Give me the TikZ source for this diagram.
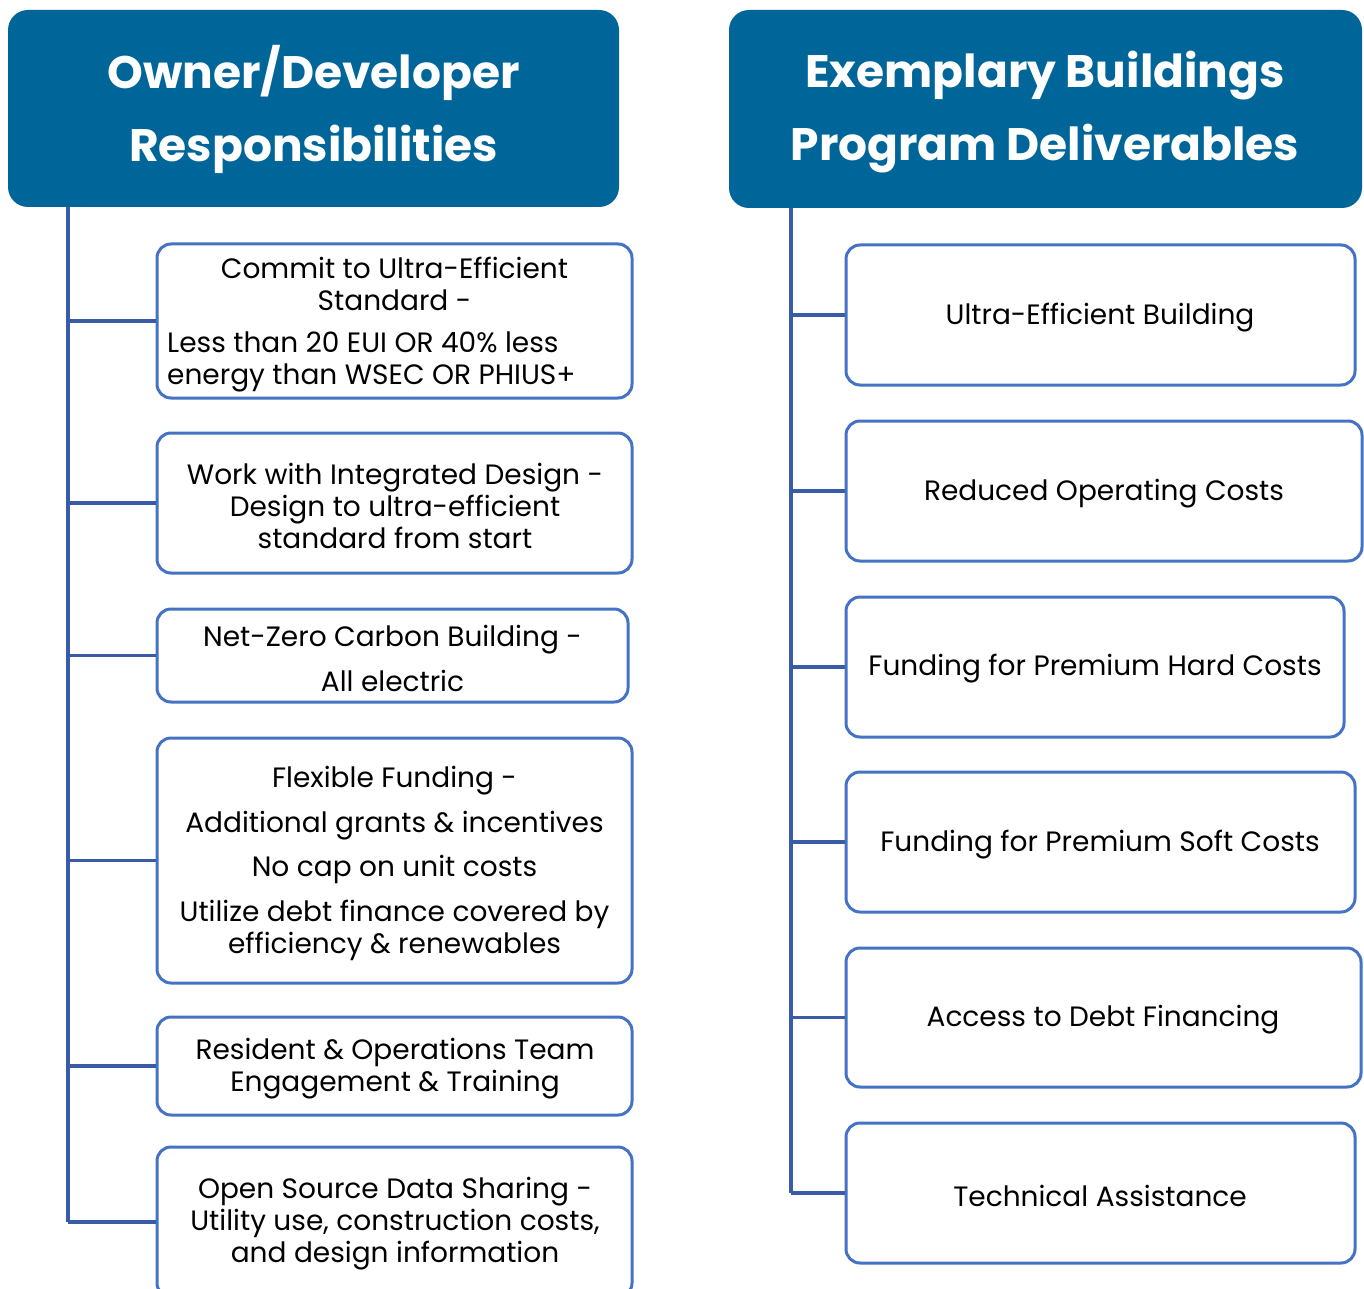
\documentclass[tikz,border=0pt]{standalone}
\usepackage{fontspec}
\setmainfont{Poppins}
\usetikzlibrary{fit}
\definecolor{hdr}{HTML}{006699}
\definecolor{bord}{HTML}{4472C4}
\definecolor{connc}{HTML}{3A5BA6}
\tikzset{
  hdrbox/.style={fill=hdr, draw=none, rounded corners=20pt, inner sep=0pt},
  itembox/.style={draw=bord, line width=3pt, rounded corners=14pt, fill=white, inner sep=0pt},
  connline/.style={draw=connc, line width=3.2pt},
  htxt/.style={text=white, font=\fontsize{45.5}{73}\selectfont\bfseries, align=center, inner sep=0pt},
  btxt/.style={text=black, font=\fontsize{28}{32}\selectfont, align=center, inner sep=0pt},
}
\begin{document}
\begin{tikzpicture}[x=1pt,y=-1pt]
\useasboundingbox (0,0) rectangle (1364,1289);
\clip (0,0) rectangle (1364,1289);
% headers
\node[hdrbox, fit={(8,10) (619,207)}] (lh) {};
\node[htxt] (lht) at (313.5,109) {Owner/Developer\\Responsibilities};
\node[hdrbox, fit={(729,10) (1362,208)}] (rh) {};
\node[htxt] (rht) at (1045,112.5) {Exemplary Buildings\\Program Deliverables};
% left boxes
\node[itembox, fit={(157,244) (632,398)}] (l1) {};
\node[itembox, fit={(157,433) (632,573)}] (l2) {};
\node[itembox, fit={(157,609) (628,702)}] (l3) {};
\node[itembox, fit={(157,738) (632,983)}] (l4) {};
\node[itembox, fit={(157,1017) (632,1115)}] (l5) {};
\node[itembox, fit={(157,1147) (632,1297)}] (l6) {};
% right boxes
\node[itembox, fit={(846,245) (1355,385)}] (r1) {};
\node[itembox, fit={(846,421) (1362,561)}] (r2) {};
\node[itembox, fit={(846,597) (1344,737)}] (r3) {};
\node[itembox, fit={(846,772) (1355,912)}] (r4) {};
\node[itembox, fit={(846,948) (1361,1087)}] (r5) {};
\node[itembox, fit={(846,1123) (1355,1263)}] (r6) {};
% connectors
\coordinate (ls) at (68,207);
\coordinate (rs) at (791,208);
\draw[connline] (ls) -- (ls |- l6.west);
\foreach \b in {l1,l2,l3,l4,l5,l6} \draw[connline] (ls |- \b.west) -- (\b.west);
\draw[connline] (rs) -- (rs |- r6.west);
\foreach \b in {r1,r2,r3,r4,r5,r6} \draw[connline] (rs |- \b.west) -- (\b.west);
% left texts
\node[btxt] (l1a) at (394.5,284) {Commit to Ultra-Efficient\\Standard -};
\node[btxt, align=left, anchor=west] (l1b) at (167,362) {Less than 20 EUI OR 40\% less\\energy than WSEC OR PHIUS+};
\node[btxt] (l2t) at (395,506) {Work with Integrated Design -\\Design to ultra-efficient\\standard from start};
\node[btxt] (l3t) at (392.5,658) {Net-Zero Carbon Building -\\[13pt]All electric};
\node[btxt] (l4t) at (394.5,863) {Flexible Funding -\\[13pt]Additional grants \& incentives\\[12pt]No cap on unit costs\\[13pt]Utilize debt finance covered by\\efficiency \& renewables};
\node[btxt] (l5t) at (395,1069) {Resident \& Operations Team\\Engagement \& Training};
\node[btxt] (l6t) at (395,1224) {Open Source Data Sharing -\\Utility use, construction costs,\\and design information};
% right texts
\node[btxt] (r1t) at (1100,318) {Ultra-Efficient Building};
\node[btxt] (r2t) at (1104,494) {Reduced Operating Costs};
\node[btxt] (r3t) at (1095,669) {Funding for Premium Hard Costs};
\node[btxt] (r4t) at (1100,845) {Funding for Premium Soft Costs};
\node[btxt] (r5t) at (1103,1020) {Access to Debt Financing};
\node[btxt] (r6t) at (1100,1196) {Technical Assistance};
\end{tikzpicture}
\end{document}
